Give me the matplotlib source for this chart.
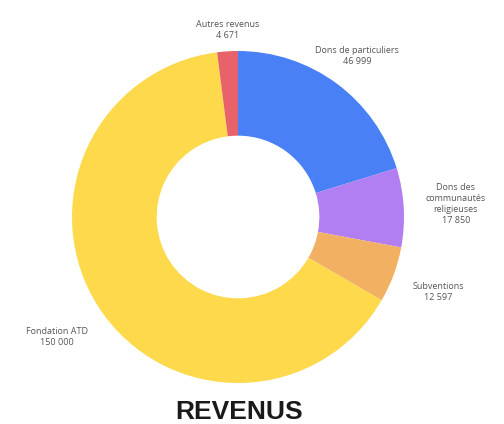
import matplotlib
matplotlib.use("Agg")
import matplotlib.pyplot as plt

# données (sens horaire à partir du haut)
categories = ["Dons de particuliers", "Dons des\ncommunautés\nreligieuses", "Subventions",
              "Fondation ATD", "Autres revenus"]
valeurs = [46999, 17850, 12597, 150000, 4671]
couleurs = ["#4a80f5", "#b27ff2", "#f2b062", "#fdd94b", "#e8626a"]

# positions des étiquettes (pixels, depuis le haut à gauche)
pos_labels = [(357, 56), (456, 204), (438, 292), (57, 337), (228, 30)]

W, H = 504, 424
cx, cy, r = 238, 217, 166

fig = plt.figure(figsize=(W / 100, H / 100), dpi=100)
ax = fig.add_axes([0, 0, 1, 1])
ax.pie(valeurs, colors=couleurs, startangle=90, counterclock=False,
       wedgeprops=dict(width=0.51, linewidth=0))
ax.set_xlim(-cx / r, (W - cx) / r)
ax.set_ylim(-(H - cy) / r, cy / r)
ax.set_aspect("auto")
ax.axis("off")

def fmt(v):
    return f"{v:,}".replace(",", " ")

for cat, val, (px, py) in zip(categories, valeurs, pos_labels):
    fig.text(px / W, 1 - py / H, f"{cat}\n{fmt(val)}", ha="center", va="center",
             fontsize=6.5, color="#555555", family="Open Sans", linespacing=1.3)

fig.text(239 / W, 1 - 412 / H, "REVENUS", ha="center", va="center",
         fontsize=19, fontweight="bold", color="#1a1a1a", family="Liberation Sans")

fig.savefig("out.png", dpi=100)
